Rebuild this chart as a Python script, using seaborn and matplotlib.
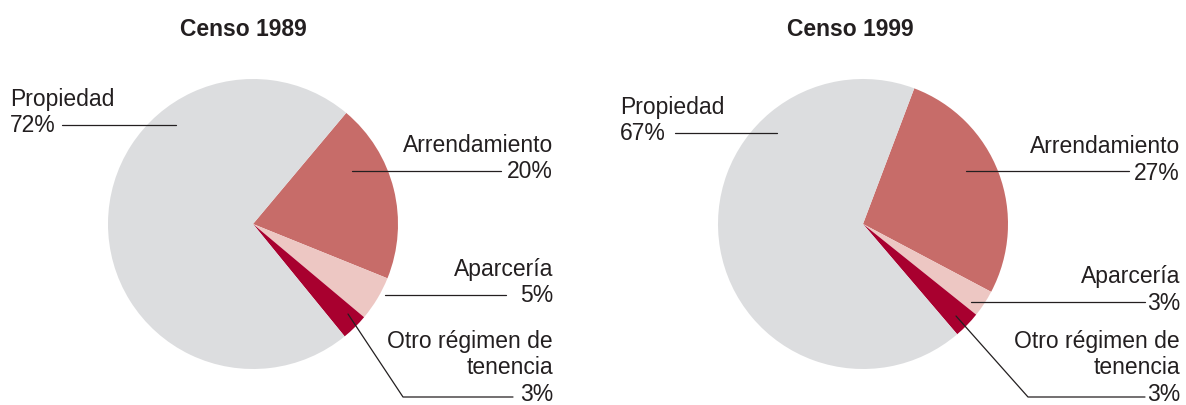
import matplotlib.pyplot as plt
import seaborn as sns
import numpy as np

# data
categories = ["Arrendamiento", "Aparcería", "Otro régimen de\ntenencia", "Propiedad"]
censo_1989 = [20, 5, 3, 72]
censo_1999 = [27, 3, 3, 67]
titles = ["Censo 1989", "Censo 1999"]

sns.set_theme(style="white")
plt.rcParams['font.family'] = ['Liberation Sans', 'DejaVu Sans']
colors = sns.color_palette(["#C76C69", "#EDC7C3", "#A8002F", "#DCDDDF"])
txt = "#231F20"

W, H = 1186, 405
fig = plt.figure(figsize=(W / 100, H / 100), dpi=100)

# layout per chart (pixels): pie center, start angle, title x, label blocks
layouts = [
    dict(cx=253, cy=224, r=145, start=50, tx=243,
         labels=[  # (x, ha, first baseline, leader points)
             (553, "right", 152, [(352, 171), (501, 171)]),
             (553, "right", 276, [(385, 295), (506, 295)]),
             (553, "right", 348, [(348, 314), (403, 397), (513, 397)]),
             (10, "left", 106, [(62, 125), (176, 125)]),
         ]),
    dict(cx=863, cy=224, r=145, start=69.3, tx=850,
         labels=[
             (1180, "right", 153, [(966, 171), (1129, 171)]),
             (1180, "right", 283, [(971, 302), (1145, 302)]),
             (1180, "right", 348, [(956, 316), (1028, 397), (1145, 397)]),
             (620, "left", 114, [(675, 133), (777, 133)]),
         ]),
]

for vals, lay in zip([censo_1989, censo_1999], layouts):
    r = lay["r"]
    ax = fig.add_axes([(lay["cx"] - r) / W, (H - lay["cy"] - r) / H, 2 * r / W, 2 * r / H])
    ax.pie(vals, colors=colors, startangle=lay["start"], counterclock=False,
           radius=1, wedgeprops=dict(linewidth=0))
    ax.set_xlim(-1, 1)
    ax.set_ylim(-1, 1)
    ax.set_aspect("equal")
    ax.axis("off")

# overlay for titles, labels and leader lines
over = fig.add_axes([0, 0, 1, 1])
over.set_xlim(0, W)
over.set_ylim(H, 0)
over.axis("off")
over.set_zorder(10)

for vals, title, lay in zip([censo_1989, censo_1999], titles, layouts):
    over.text(lay["tx"], 36, title, ha="center", va="baseline", fontsize=16.5,
              fontweight="bold", color=txt)
    for cat, v, (x, ha, y0, pts) in zip(categories, vals, lay["labels"]):
        lines = cat.split("\n") + [f"{v}%"]
        for i, s in enumerate(lines):
            over.text(x, y0 + i * 26.5, s, ha=ha, va="baseline", fontsize=16.5,
                      color=txt)
        px, py = zip(*pts)
        over.plot(px, py, color=txt, lw=0.9)

fig.savefig("out.png", dpi=100)
